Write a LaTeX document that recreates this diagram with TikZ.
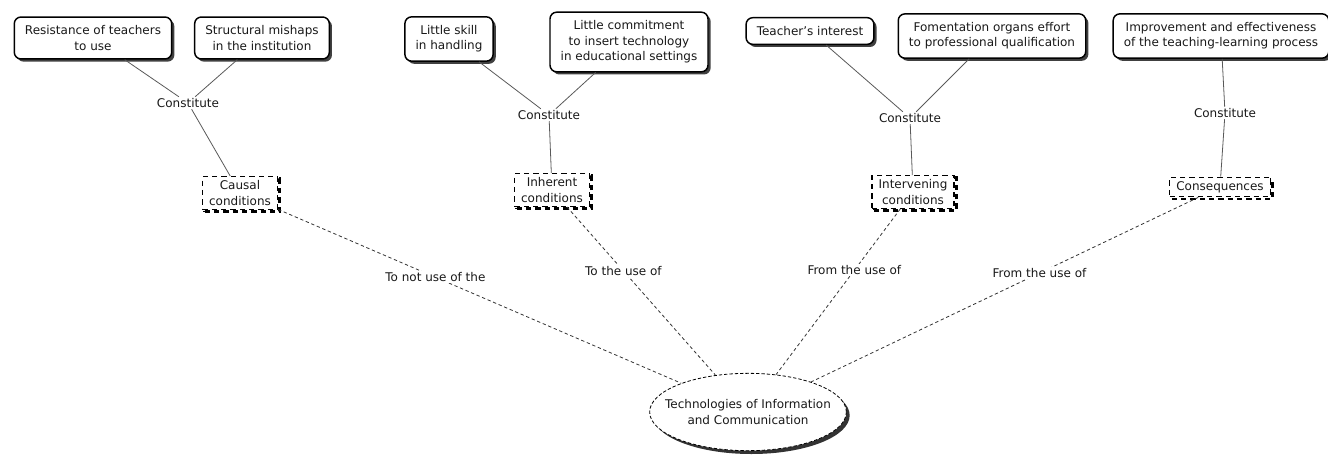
\documentclass[tikz,border=0pt]{standalone}
\usepackage{fontspec}
\setmainfont{DejaVu Sans}
\usetikzlibrary{shapes.geometric,shadows}

\begin{document}
\begin{tikzpicture}[x=0.75pt, y=-0.75pt, font=\fontsize{9}{11.5}\selectfont, text=black!90,
    concept/.style={draw=black, line width=1.1pt, rounded corners=5pt, fill=white, align=center,
        inner xsep=8pt, inner ysep=6.5pt,
        drop shadow={shadow xshift=2pt, shadow yshift=-2pt, fill=black!75, opacity=1}},
    cond/.style={draw=black, line width=1pt, dash pattern=on 4pt off 3pt, fill=white, align=center,
        inner xsep=5pt, inner ysep=3pt,
        copy shadow={shadow xshift=1.6pt, shadow yshift=-1.6pt, draw=black, line width=2pt,
            dash pattern=on 4pt off 3pt, fill=white}},
    tics/.style={ellipse, draw=black, line width=0.6pt, dash pattern=on 2.5pt off 1.5pt, fill=white,
        align=center, inner xsep=-10pt, inner ysep=0pt, minimum height=58pt,
        drop shadow={shadow xshift=2.5pt, shadow yshift=-2.5pt, fill=black!80, opacity=1}},
    word/.style={fill=white, inner sep=1pt},
    link/.style={draw=black!65, line width=0.6pt},
    dlink/.style={draw=black!80, line width=0.6pt, dash pattern=on 2.5pt off 2pt}]

    \useasboundingbox (0,0) rectangle (1328,454);

    \node[concept] (r1) at (93,38) {Resistance of teachers\\to use};
    \node[concept] (r2) at (262,38) {Structural mishaps\\in the institution};
    \node[concept] (s1) at (449,39) {Little skill\\in handling};
    \node[concept] (s2) at (629,42) {Little commitment\\to insert technology\\in educational settings};
    \node[concept] (t1) at (810,31) {Teacher's interest};
    \node[concept] (t2) at (992,36) {Fomentation organs effort\\to professional qualification};
    \node[concept] (u1) at (1221,36) {Improvement and effectiveness\\of the teaching-learning process};

    \node[word] (c1) at (188,103) {Constitute};
    \node[word] (c2) at (549,115) {Constitute};
    \node[word] (c3) at (910,118) {Constitute};
    \node[word] (c4) at (1225,113) {Constitute};

    \node[cond] (causal) at (240,193) {Causal\\conditions};
    \node[cond] (inherent) at (552,190) {Inherent\\conditions};
    \node[cond] (intervening) at (913,192) {Intervening\\conditions};
    \node[cond] (conseq) at (1220,187) {Consequences};

    \node[tics] (tic) at (748,412) {Technologies of Information\\and Communication};

    \draw[link] (r1) -- (c1);
    \draw[link] (r2) -- (c1);
    \draw[link] (c1) -- (causal);
    \draw[link] (s1) -- (c2);
    \draw[link] (s2) -- (c2);
    \draw[link] (c2) -- (inherent);
    \draw[link] (t1) -- (c3);
    \draw[link] (t2) -- (c3);
    \draw[link] (c3) -- (intervening);
    \draw[link] (u1) -- (c4);
    \draw[link] (c4) -- (conseq);

    \draw[dlink] (causal) -- node[word, pos=.39] {To not use of the} (tic);
    \draw[dlink] (inherent) -- node[word, pos=.38] {To the use of} (tic);
    \draw[dlink] (intervening) -- node[word, pos=.37] {From the use of} (tic);
    \draw[dlink] (conseq) -- node[word, pos=.41] {From the use of} (tic);
\end{tikzpicture}
\end{document}
